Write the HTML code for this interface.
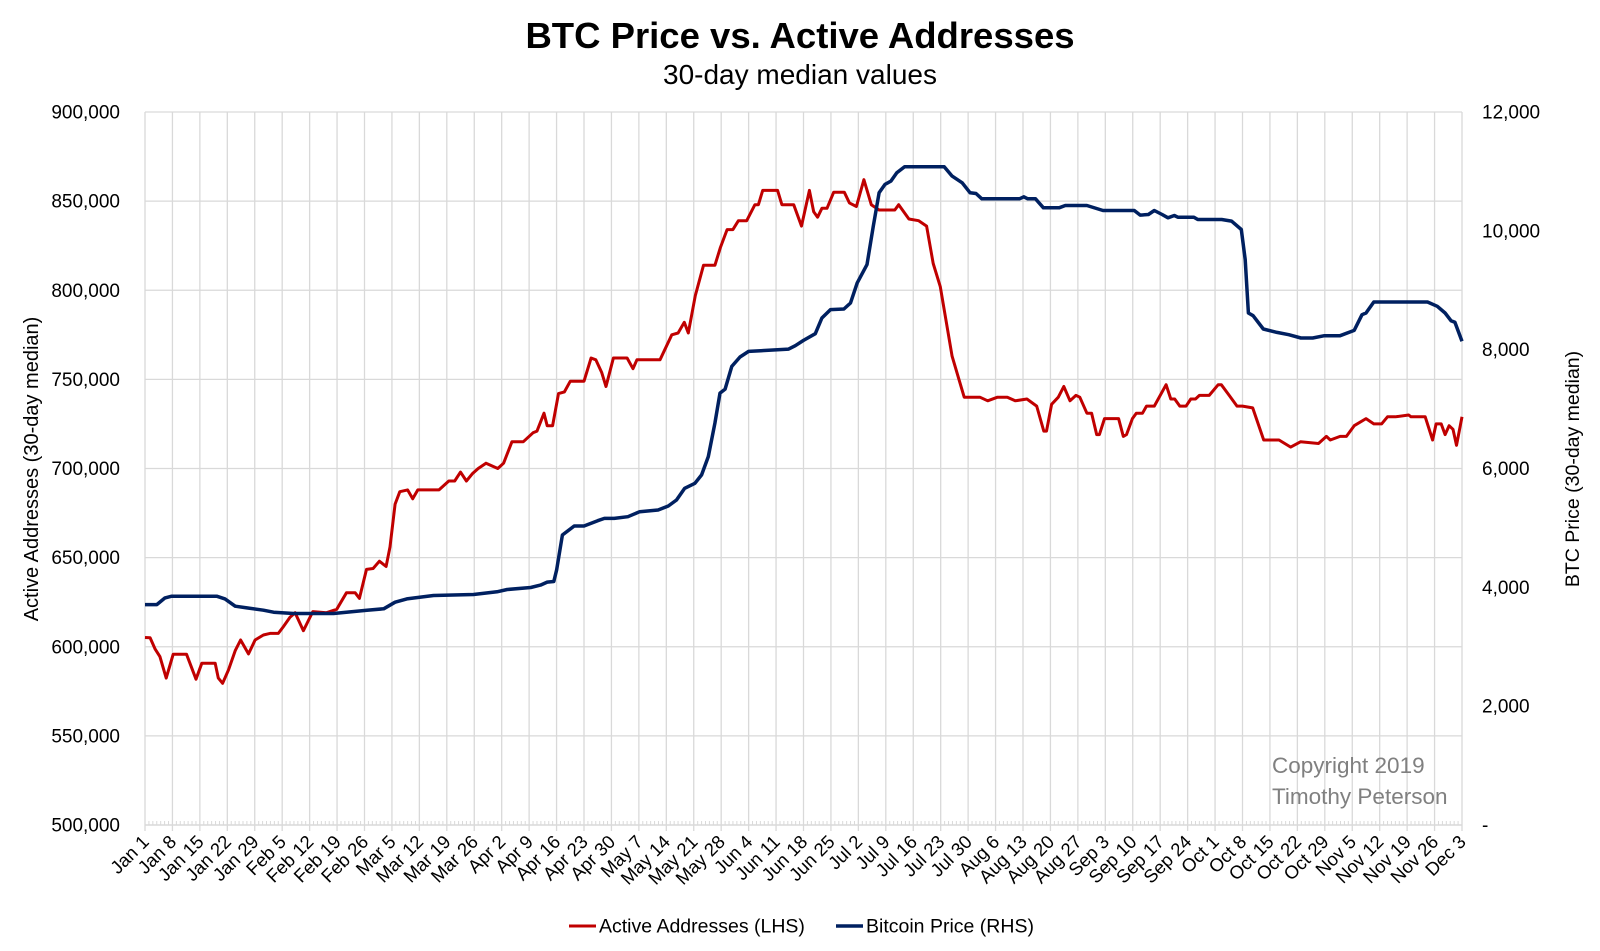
<!DOCTYPE html>
<html><head><meta charset="utf-8"><style>
html,body{margin:0;padding:0;background:#fff;}
svg{display:block;font-family:"Liberation Sans",sans-serif;}
</style></head><body>
<svg id="chart" width="1600" height="951" viewBox="0 0 1600 951" xmlns="http://www.w3.org/2000/svg">
<text x="800" y="48" text-anchor="middle" font-size="36.5" font-weight="bold" fill="#000">BTC Price vs. Active Addresses</text>
<text x="800" y="84" text-anchor="middle" font-size="28" fill="#000">30-day median values</text>
<g id="grid"></g>
<g id="axes"></g>
<g id="series"></g>
<text transform="translate(38,469) rotate(-90)" text-anchor="middle" font-size="20" fill="#000">Active Addresses (30-day median)</text>
<text transform="translate(1579,469) rotate(-90)" text-anchor="middle" font-size="19.5" fill="#000">BTC Price (30-day median)</text>
<text x="1272" y="773" font-size="22.5" fill="#808080">Copyright 2019</text>
<text x="1272" y="804" font-size="22.5" fill="#808080">Timothy Peterson</text>
<g>
<g>
<line x1="569" y1="926" x2="596" y2="926" stroke="#C00000" stroke-width="3"/>
<text x="599" y="932.5" font-size="19.5" fill="#000">Active Addresses (LHS)</text></g>
<g>
<line x1="836" y1="926" x2="863" y2="926" stroke="#002060" stroke-width="3.5"/>
<text x="866" y="932.5" font-size="19.5" fill="#000">Bitcoin Price (RHS)</text></g>
</g>
</svg>
<script>
const xTickLabels = ["Jan 1","Jan 8","Jan 15","Jan 22","Jan 29","Feb 5","Feb 12","Feb 19","Feb 26","Mar 5","Mar 12","Mar 19","Mar 26","Apr 2","Apr 9","Apr 16","Apr 23","Apr 30","May 7","May 14","May 21","May 28","Jun 4","Jun 11","Jun 18","Jun 25","Jul 2","Jul 9","Jul 16","Jul 23","Jul 30","Aug 6","Aug 13","Aug 20","Aug 27","Sep 3","Sep 10","Sep 17","Sep 24","Oct 1","Oct 8","Oct 15","Oct 22","Oct 29","Nov 5","Nov 12","Nov 19","Nov 26","Dec 3"];
const leftTicks = [500000,550000,600000,650000,700000,750000,800000,850000,900000];
const leftTickLabels = ["500,000","550,000","600,000","650,000","700,000","750,000","800,000","850,000","900,000"];
const rightTicks = [0,2000,4000,6000,8000,10000,12000];
const rightTickLabels = ["-","2,000","4,000","6,000","8,000","10,000","12,000"];
// day offsets from Jan 1
const aaDays = [0,1.3,2.6,3.8,5.4,7.2,10.6,13,14.5,17.9,18.7,19.8,21.3,23,24.4,26.4,28.1,30.2,31.9,34,35.3,37,38.3,40.4,42.8,46.3,48.9,51.4,53.6,54.7,56.5,58.2,59.8,61.5,62.5,63.8,65,67,68.3,69.6,75,77.5,79,80.5,82,83.5,85,87,90,91.5,93.6,96.5,99,100,101.8,102.6,104,105.5,107,108.5,112,113.8,115,116.5,117.6,119.5,123,124.5,125.5,131.4,134.4,136,137.6,138.6,140.4,142.5,145.4,146.8,148.5,150,151.4,153.5,155.6,156.5,157.6,161.4,162.5,165.5,167.5,169.5,170.6,171.6,172.7,174,175.7,178.4,179.7,181.5,183.4,185.3,187.3,191.3,192.3,194.9,197.4,199.4,201.1,202.9,205.9,209,213,215,217.5,220,222,225,227.5,229.3,230,231.3,233,234.4,236,237.5,238.5,240.3,241.5,242.8,243.5,244.8,248.4,249.6,250.4,251.9,252.9,254.5,255.5,257.5,260.5,261.7,262.7,264,265.6,266.8,268,269,271.5,273.8,274.6,276.6,278.6,280,282.6,285.4,289.3,292.3,294.8,299.4,301.4,302.4,304.9,306.5,308.5,311.5,313.5,315.5,317,319,322.4,323,326.6,328.5,329.4,330.7,331.7,332.7,333.7,334.6,336];
const aaValues = [605200,605000,598600,594500,582400,595800,595800,581800,590700,590700,582400,579500,587000,597800,603800,596000,603800,606600,607500,607500,611300,616500,619100,609000,619700,619100,621000,630300,630300,627100,643400,643900,648000,645000,656000,680000,687000,688000,683000,688000,688000,693000,693000,698000,693000,697000,700000,703000,700000,703000,715000,715000,720000,721000,731000,724000,724000,742000,743000,749000,749000,762000,761000,754000,746000,762000,762000,756000,761000,761000,775000,776000,782000,776000,797000,814000,814000,824000,834000,834000,839000,839000,848000,848000,856000,856000,848000,848000,836000,856000,844000,841000,846000,846000,855000,855000,849000,847000,862000,848000,845000,845000,848000,840000,839000,836000,815000,802000,763000,740000,740000,738000,740000,740000,738000,739000,735000,721000,721000,736000,740000,746000,738000,741000,740000,731000,731000,719000,719000,728000,728000,718000,719000,728000,731000,731000,735000,735000,747000,739000,739000,735000,735000,739000,739000,741000,741000,747000,747000,741000,735000,735000,734000,716000,716000,712000,715000,714000,718000,716000,718000,718000,724000,728000,725000,725000,729000,729000,730000,729000,729000,716000,725000,725000,719000,724000,722000,713000,729000];
const btcDays = [0,3,5.1,6.8,18.3,20.4,23,26,30.2,32.8,37.9,48.1,56.6,60.9,63.8,66.8,73.6,83.8,89.8,92.4,98.4,100.9,102.6,104.3,105,106.5,109.5,112,115.5,117.2,119.7,123.2,126.2,130.9,133.5,135.6,137.7,140.3,142,143.7,145.4,146.7,148,149.7,151.8,154,164.2,165.9,168,171,172.7,174.9,178.3,180,181.7,184.2,185.8,187.3,188.8,190.3,191.8,193.8,203.9,205.9,208.5,210.5,212,213.5,223.1,224.2,225.2,227.2,229.2,233.2,234.8,240.3,244.4,252.4,253.9,256,257.5,259.5,261,262.6,263.5,267.6,268.6,274.7,277.2,279.7,280.7,281.5,282.7,285.3,288.8,291.8,294.9,297.9,300.9,304.9,308.5,310.5,311.5,313.5,327.2,329.7,331.7,333.2,334.2,336];
const btcValues = [3710,3710,3823,3851,3851,3806,3683,3654,3615,3582,3560,3560,3615,3638,3750,3806,3862,3879,3924,3964,3998,4037,4088,4099,4290,4880,5032,5032,5122,5161,5161,5189,5273,5301,5369,5470,5667,5751,5892,6201,6763,7269,7336,7718,7876,7971,8010,8067,8156,8269,8533,8674,8685,8786,9123,9432,10079,10640,10781,10837,10978,11079,11079,10921,10809,10640,10629,10539,10539,10573,10539,10539,10388,10388,10427,10427,10343,10343,10264,10275,10343,10275,10219,10258,10230,10230,10191,10191,10163,10022,9516,8617,8572,8348,8291,8252,8196,8196,8235,8235,8325,8589,8617,8803,8803,8730,8617,8488,8460,8140];

const NS="http://www.w3.org/2000/svg";
const X0=145, X1=1462, Y0=112, Y1=825, DMAX=336;
const xScale=d=>X0+(d/DMAX)*(X1-X0);
const yLeft=v=>Y1-(v-500000)/400000*(Y1-Y0);
const yRight=v=>Y1-(v/12000)*(Y1-Y0);
function mk(tag,attrs,parent){const e=document.createElementNS(NS,tag);for(const k in attrs)e.setAttribute(k,attrs[k]);parent.appendChild(e);return e;}
const grid=document.getElementById('grid'), axes=document.getElementById('axes'), series=document.getElementById('series');

leftTicks.forEach((v,i)=>{
  const y=yLeft(v);
  if(i>0){const g=mk('line',{x1:X0,x2:X1,y1:y,y2:y,stroke:'#d9d9d9','stroke-width':1.3},grid);
  
  }
  const t=mk('text',{x:120,y:y+6.5,'text-anchor':'end','font-size':19,fill:'#000'},axes);
  t.textContent=leftTickLabels[i];
  
  
});
rightTicks.forEach((v,i)=>{
  const y=yRight(v);
  const t=mk('text',{x:1482,y:y+6.5,'font-size':19,fill:'#000'},axes);
  t.textContent=rightTickLabels[i];
  
  
});
xTickLabels.forEach((lab,i)=>{
  const x=xScale(i*7);
  const g=mk('line',{x1:x,x2:x,y1:Y0,y2:Y1+6,stroke:'#d9d9d9','stroke-width':1.3},grid);
  
  
  const t=mk('text',{x:0,y:0,'text-anchor':'end','font-size':18.5,fill:'#000',transform:`translate(${x+5},${Y1+18}) rotate(-45)`},axes);
  t.textContent=lab;
  
  
});
for(let d=0;d<=DMAX;d++){
  const x=xScale(d);
  const m=mk('line',{x1:x,x2:x,y1:Y1-4,y2:Y1,stroke:'#d9d9d9','stroke-width':1},grid);
  
  
}
const ax=mk('line',{x1:X0,x2:X1,y1:Y1,y2:Y1,stroke:'#d9d9d9','stroke-width':1.5},axes);



const aaPts=aaDays.map((d,i)=>xScale(d).toFixed(1)+','+yLeft(aaValues[i]).toFixed(1)).join(' ');
const aaLine=mk('polyline',{points:aaPts,fill:'none',stroke:'#C00000','stroke-width':3,'stroke-linejoin':'round'},series);


const btcPts=btcDays.map((d,i)=>xScale(d).toFixed(1)+','+yRight(btcValues[i]).toFixed(1)).join(' ');
const btcLine=mk('polyline',{points:btcPts,fill:'none',stroke:'#002060','stroke-width':3.5,'stroke-linejoin':'round'},series);


</script>
</body></html>
